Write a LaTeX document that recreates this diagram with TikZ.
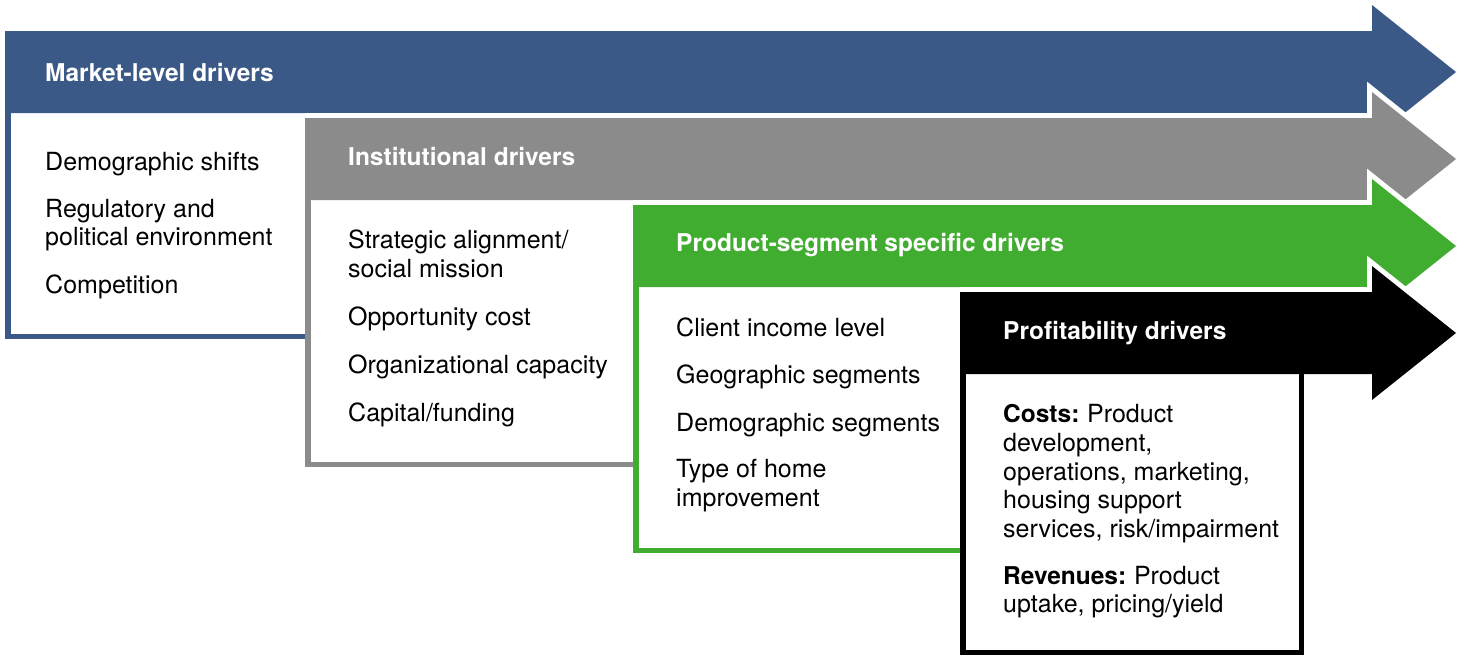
\documentclass[tikz,border=0pt]{standalone}
\usepackage{fontspec}
\setmainfont{TeX Gyre Heros}
\definecolor{mblue}{RGB}{58,89,135}
\definecolor{mgray}{RGB}{139,139,140}
\definecolor{mgreen}{RGB}{65,173,48}
\newcommand\mylevel[5]{% #1 left, #2 centre of band, #3 box bottom, #4 box right, #5 colour
  \path[halo] (#1,#2-41) -- (1372,#2-41) -- (1372,#2-67) -- (1456,#2) -- (1372,#2+67) -- (1372,#2+41) -- (#4,#2+41) -- (#4,#3) -- (#1+1,#3);
  \draw[boxborder, draw=#5] (#1+2.75,#2+38) rectangle (#4-2.75,#3-2.75);
  \fill[#5] (#1,#2-41) -- (1372,#2-41) -- (1372,#2-67) -- (1456,#2) -- (1372,#2+67) -- (1372,#2+41) -- (#1,#2+41) -- cycle;
}
\begin{document}
\begin{tikzpicture}[x=1pt,y=-1pt,
  txt/.style={anchor=base west, inner sep=0pt, font=\fontsize{25}{29}\selectfont},
  ttl/.style={anchor=base west, inner sep=0pt, text=white, font=\fontsize{24.5}{29}\selectfont\bfseries},
  halo/.style={draw=white, line width=10pt, line join=miter, fill=white},
  boxborder/.style={line width=5.5pt, fill=white}]
\useasboundingbox[fill=white] (0,0) rectangle (1457,656);

% levels
\mylevel{5}{72}{339}{320}{mblue}
\mylevel{305}{159}{467}{650}{mgray}
\mylevel{633}{246}{553}{975}{mgreen}
\mylevel{960}{333}{655}{1304}{black}

% titles
\node[ttl] (t1) at (45,81) {Market-level drivers};
\node[ttl] (t2) at (348,165) {Institutional drivers};
\node[ttl] (t3) at (676,251) {Product-segment specific drivers};
\node[ttl] (t4) at (1003,339) {Profitability drivers};

% market-level items
\node[txt] (a1) at (45,170) {Demographic shifts};
\node[txt] (a2) at (45,217) {Regulatory and};
\node[txt] (a2b) at (45,245) {political environment};
\node[txt] (a3) at (45,293) {Competition};

% institutional items
\node[txt] (b1) at (348,248) {Strategic alignment/};
\node[txt] (b1b) at (348,277) {social mission};
\node[txt] (b2) at (348,325) {Opportunity cost};
\node[txt] (b3) at (348,373) {Organizational capacity};
\node[txt] (b4) at (348,421) {Capital/funding};

% product-segment items
\node[txt] (c1) at (676,336) {Client income level};
\node[txt] (c2) at (676,383) {Geographic segments};
\node[txt] (c3) at (676,431) {Demographic segments};
\node[txt] (c4) at (676,477) {Type of home};
\node[txt] (c4b) at (676,506) {improvement};

% profitability items
\node[txt] (d1) at (1003,422) {{\fontsize{24.5}{29}\selectfont\bfseries Costs:}\hspace{-1.5pt} Product};
\node[txt] (d1b) at (1003,451) {development,};
\node[txt] (d1c) at (1003,480) {operations, marketing,};
\node[txt] (d1d) at (1003,508) {housing support};
\node[txt] (d1e) at (1003,537) {services, risk/impairment};
\node[txt] (d2) at (1003,584) {{\fontsize{24.5}{29}\selectfont\bfseries Revenues:}\hspace{-1.5pt} Product};
\node[txt] (d2b) at (1003,612) {uptake, pricing/yield};
\end{tikzpicture}
\end{document}
